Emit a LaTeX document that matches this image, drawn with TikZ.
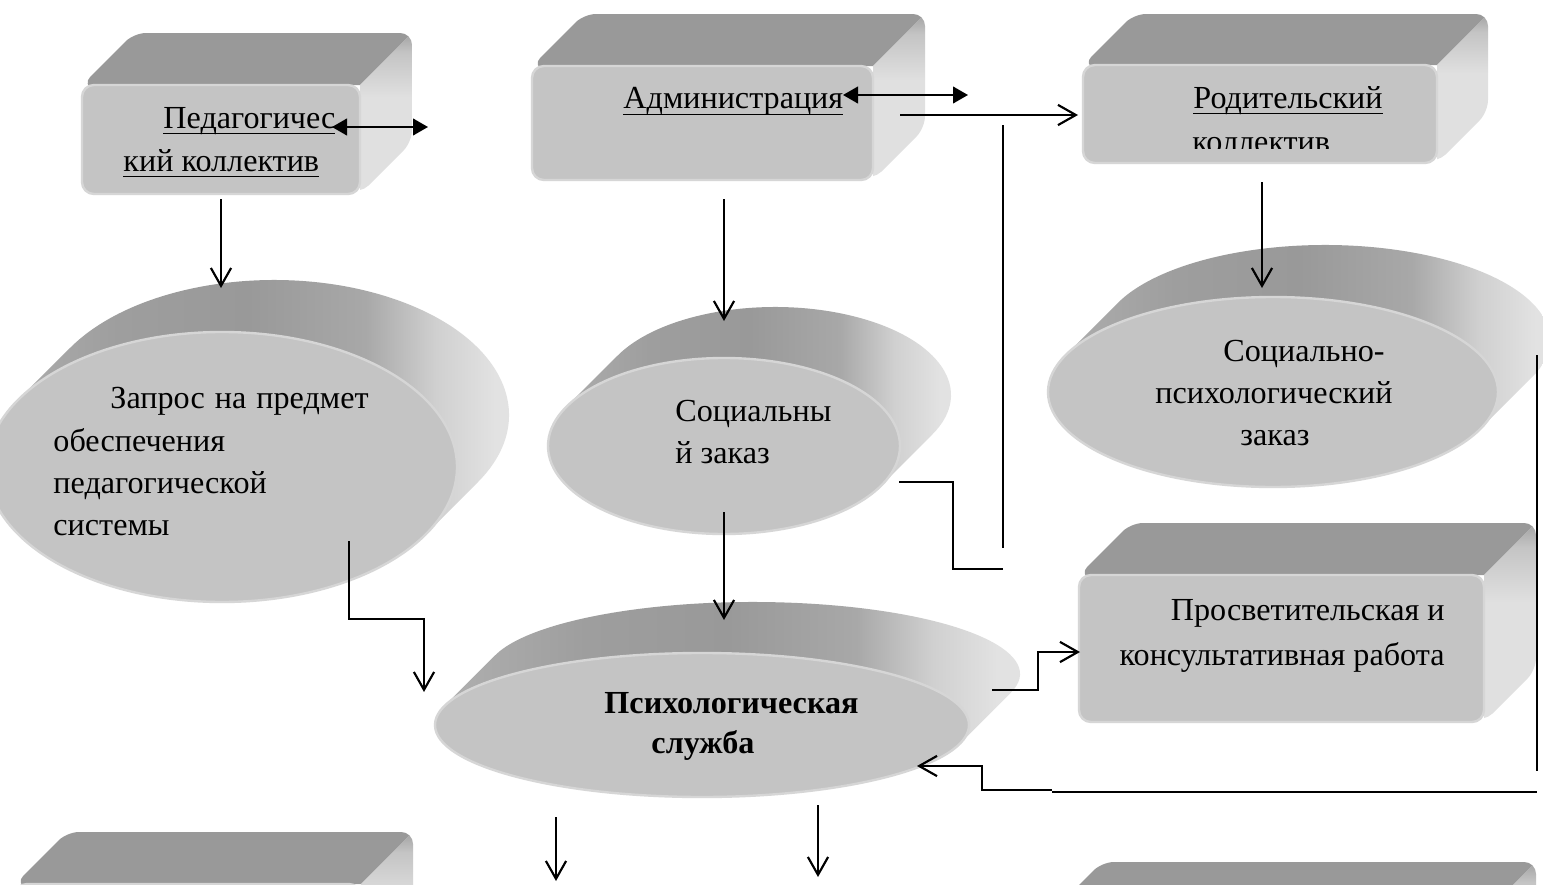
\documentclass[tikz,border=0pt]{standalone}
\usepackage{fontspec}
\setmainfont{Liberation Serif}
\usetikzlibrary{arrows.meta,calc}
\definecolor{frontc}{HTML}{C4C4C4}
\definecolor{topc}{HTML}{999999}
\definecolor{sidec}{HTML}{E0E0E0}
\definecolor{rimc}{HTML}{D6D6D6}
\definecolor{dA}{HTML}{B4B4B4}
\definecolor{dB}{HTML}{9E9E9E}
\definecolor{dC}{HTML}{999999}
\definecolor{dD}{HTML}{A8A8A8}
\definecolor{dE}{HTML}{D0D0D0}
\definecolor{dF}{HTML}{E2E2E2}
\definecolor{sA}{HTML}{A2A2A2}
\definecolor{sB}{HTML}{C4C4C4}
\pgfdeclarehorizontalshading{discsh}{100bp}{color(0bp)=(dA); color(25bp)=(dA); color(39bp)=(dB); color(50bp)=(dC); color(60bp)=(dD); color(66bp)=(dE); color(71bp)=(dF); color(100bp)=(dF)}
\pgfdeclareverticalshading{sidesh}{100bp}{color(0bp)=(sidec); color(25bp)=(sidec); color(55bp)=(sidec); color(69bp)=(sB); color(75bp)=(sA); color(100bp)=(sA)}
\newcommand\ulx[1]{\setbox0\hbox{#1}\rlap{\rule[-2.6pt]{\wd0}{0.65pt}}\box0}
% box: #1 name, #2 x1, #3 y1 (top), #4 x2, #5 y2 (bottom), #6 depth
\newcommand\boxthree[6]{%
  \begin{scope}
    \clip[rounded corners=5pt] (#2,-#3) -- (#2+#6,-#3+#6) -- (#4+#6,-#3+#6) -- (#4+#6,-#5+#6) -- (#4,-#5) -- cycle;
    \fill[topc] (#2,-#3) -- (#2+#6,-#3+#6) -- (#4+#6,-#3+#6) -- (#4,-#3) -- cycle;
    \shade[shading=sidesh] (#4,-#3) -- (#4+#6,-#3+#6) -- (#4+#6,-#5+#6) -- (#4,-#5) -- cycle;
  \end{scope}
  \path[fill=frontc, draw=rimc, line width=1pt, rounded corners=5pt] (#2,-#3) rectangle (#4,-#5);
  \coordinate (#1) at ({(#2+#4)/2},{-(#3+#5)/2});
}
% disc: #1 name, #2 cx, #3 cy, #4 a, #5 b, #6 depth
\newcommand\discthree[6]{%
  \pgfmathsetmacro\tA{-atan(#5/#4)}%
  \pgfmathsetmacro\tB{\tA+180}%
  \pgfmathsetmacro\tC{\tA-180}%
  \shade[shading=discsh] ($(#2,-#3)+(\tB:#4 and #5)$) -- ++(#6,#6)
     arc[start angle=\tB, end angle=\tA, x radius=#4, y radius=#5] -- ++(-#6,-#6)
     arc[start angle=\tA, end angle=\tC, x radius=#4, y radius=#5] -- cycle;
  \path[fill=frontc, draw=rimc, line width=1pt] (#2,-#3) ellipse [x radius=#4, y radius=#5];
  \coordinate (#1) at (#2,-#3);
}
\tikzset{
  txt/.style={inner sep=0pt, font=\fontsize{13.5pt}{17pt}\selectfont},
  btxt/.style={inner sep=0pt, font=\fontsize{13.5pt}{17pt}\selectfont\bfseries},
  ln/.style={line width=0.9pt},
  con/.style={line width=0.9pt, -{Straight Barb[length=7.5pt,width=8.5pt,line width=0.9pt]}},
  dbl/.style={line width=0.9pt, {Triangle[length=6.3pt,width=7pt]}-{Triangle[length=6.3pt,width=7pt]}}
}
\begin{document}
\begin{tikzpicture}[x=0.42pt,y=0.42pt]
\useasboundingbox (0,-885) rectangle (1543,0);
\clip (0,-885) rectangle (1543,0);
\fill[white] (0,-885) rectangle (1543,0);

% shapes
\boxthree{ped}{82}{85}{360}{194}{52}
\boxthree{adm}{532}{66}{873}{180}{52}
\boxthree{rod}{1083}{65}{1437}{163}{51}
\boxthree{pros}{1079}{575}{1484}{722}{52}
\boxthree{botl}{15}{884}{361}{1000}{52}
\boxthree{botr}{1050}{914}{1484}{1030}{52}
\discthree{zap}{222}{467}{235}{135}{52}
\discthree{soc}{724}{446}{176}{88}{51}
\discthree{spz}{1273}{392}{225}{95}{52}
\discthree{psy}{702}{725}{267}{72}{51}

% texts
\node[txt, anchor=base west] (tped1) at (163,-128) {\ulx{Педагогичес}};
\node[txt, anchor=base west] (tped2) at (123,-171) {\ulx{кий коллектив}};
\node[txt, anchor=base west] (tadm) at (623,-109) {\ulx{Администрация}};
\node[txt, anchor=base west] (trod1) at (1193,-108) {\ulx{Родительский}};
\begin{scope}
  \clip (1083,-65) rectangle (1437,-148);
  \node[txt, anchor=base west] (trod2) at (1192,-152) {коллектив};
\end{scope}
\node[txt, anchor=base west] (tzap1) at (110,-408) {\makebox[108.4pt][s]{Запрос на предмет}};
\node[txt, anchor=base west] (tzap2) at (53,-451) {обеспечения};
\node[txt, anchor=base west] (tzap3) at (53,-493) {педагогической};
\node[txt, anchor=base west] (tzap4) at (53,-535) {системы};
\node[txt, anchor=base west] (tsoc1) at (675,-421) {Социальны};
\node[txt, anchor=base west] (tsoc2) at (675,-463) {й заказ};
\node[txt, anchor=base west] (tspz1) at (1223,-361) {Социально-};
\node[txt, anchor=base west] (tspz2) at (1155,-403) {психологический};
\node[txt, anchor=base west] (tspz3) at (1240,-445) {заказ};
\node[txt, anchor=base east] (tpros1) at (1445,-620) {Просветительская и};
\node[txt, anchor=base east] (tpros2) at (1445,-665) {консультативная работа};
\node[btxt, anchor=base west] (tpsy1) at (604,-713) {Психологическая};
\node[btxt, anchor=base west] (tpsy2) at (651,-753) {служба};

% connector end points
\coordinate (p1a) at (332,-127);  \coordinate (p1b) at (428,-127);
\coordinate (p2a) at (843,-95);   \coordinate (p2b) at (968,-95);
\coordinate (p3a) at (900,-115);  \coordinate (p3b) at (1078,-115);
\coordinate (p4a) at (1003,-125); \coordinate (p4b) at (1003,-548);
\coordinate (p5a) at (899,-482);  \coordinate (p5b) at (953,-482);
\coordinate (p5c) at (953,-569);  \coordinate (p5d) at (1003,-569);
\coordinate (p6a) at (221,-199);  \coordinate (p6b) at (221,-288);
\coordinate (p7a) at (724,-199);  \coordinate (p7b) at (724,-321);
\coordinate (p8a) at (1262,-182); \coordinate (p8b) at (1262,-288);
\coordinate (p9a) at (724,-512);  \coordinate (p9b) at (724,-620);
\coordinate (p10a) at (349,-541); \coordinate (p10b) at (349,-619);
\coordinate (p10c) at (424,-619); \coordinate (p10d) at (424,-692);
\coordinate (p11a) at (992,-690); \coordinate (p11b) at (1038,-690);
\coordinate (p11c) at (1038,-652); \coordinate (p11d) at (1080,-652);
\coordinate (p12a) at (1537,-355); \coordinate (p12b) at (1537,-771);
\coordinate (p13a) at (1052,-792); \coordinate (p13b) at (1537,-792);
\coordinate (p14a) at (1052,-790); \coordinate (p14b) at (982,-790);
\coordinate (p14c) at (982,-766); \coordinate (p14d) at (917,-766);
\coordinate (p15a) at (556,-817); \coordinate (p15b) at (556,-881);
\coordinate (p16a) at (818,-805); \coordinate (p16b) at (818,-877);

% connectors
\draw[dbl] (p1a) -- (p1b);
\draw[dbl] (p2a) -- (p2b);
\draw[con] (p3a) -- (p3b);
\draw[ln] (p4a) -- (p4b);
\draw[ln] (p5a) -- (p5b) -- (p5c) -- (p5d);
\draw[con] (p6a) -- (p6b);
\draw[con] (p7a) -- (p7b);
\draw[con] (p8a) -- (p8b);
\draw[con] (p9a) -- (p9b);
\draw[con] (p10a) -- (p10b) -- (p10c) -- (p10d);
\draw[con] (p11a) -- (p11b) -- (p11c) -- (p11d);
\draw[ln] (p12a) -- (p12b);
\draw[ln] (p13a) -- (p13b);
\draw[con] (p14a) -- (p14b) -- (p14c) -- (p14d);
\draw[con] (p15a) -- (p15b);
\draw[con] (p16a) -- (p16b);
\end{tikzpicture}
\end{document}
